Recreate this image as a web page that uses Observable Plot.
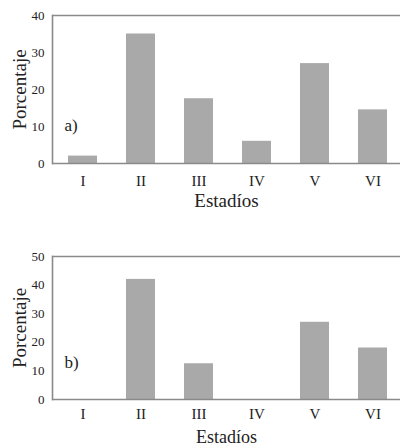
<!DOCTYPE html>
<html><head><meta charset="utf-8">
<script src="https://cdn.jsdelivr.net/npm/d3@7"></script>
<script src="https://cdn.jsdelivr.net/npm/@observablehq/plot@0.6"></script>
<style>body{margin:0;background:#fff}#c{width:400px}svg{display:block}</style>
</head><body><div id="c"></div>
<script>
const estadios = ["I","II","III","IV","V","VI"];
const valoresA = [2, 35, 17.5, 6, 27, 14.5];
const valoresB = [0, 42, 12.5, 0, 27, 18];
const ticksA = [0,10,20,30,40];
const ticksB = [0,10,20,30,40,50];

const font = "'Liberation Serif', 'DejaVu Serif', serif";
const grid = "#8a8a8a";
const barFill = "#a9a9a9";

function panel(values, ticks, ymax, tag, tagY, opts) {
  const data = estadios.map((e,i)=>({e, v: values[i]}));
  return Plot.plot({
    width: 400, height: opts.height,
    marginLeft: 52, marginRight: 0, marginTop: opts.marginTop, marginBottom: opts.marginBottom,
    style: {fontFamily: font, fontSize: "13px", color: "#222", background: "#fff"},
    x: {domain: estadios, range: [51, 404], paddingInner: 0.5, paddingOuter: 0.25},
    y: {domain: [0, ymax]},
    marks: [
      Plot.barY(data, {x: "e", y: "v", fill: barFill}),
      Plot.axisX({label: "Estadíos", labelAnchor: "center", labelOffset: opts.labelOffset, labelArrow: "none", tickSize: 0, tickPadding: opts.tickPadding, fontSize: 15}),
      Plot.axisY({ticks, label: "Porcentaje", labelAnchor: "center", labelOffset: 40, labelArrow: "none", tickSize: 0, tickPadding: 8}),
      Plot.ruleY([0], {stroke: grid, strokeWidth: 1.6}),
      Plot.ruleY([ymax], {stroke: grid, strokeWidth: 1.6}),
      Plot.frame({anchor: "left", stroke: grid, strokeWidth: 1.6}),
      Plot.text([tag], {frameAnchor: "left", dx: 12, y: tagY, text: d=>d, fontSize: 17, fill: "#222"})
    ]
  });
}

const a = panel(valoresA, ticksA, 40, "a)", 10.3, {height: 215, marginTop: 15, marginBottom: 52, tickPadding: 12, labelOffset: 43});
const b = panel(valoresB, ticksB, 50, "b)", 12.8, {height: 233, marginTop: 41, marginBottom: 49, tickPadding: 9, labelOffset: 43});
document.getElementById("c").append(a, b);
for (const svg of [a,b]) {
  svg.querySelectorAll("[aria-label='x-axis label'] text, [aria-label='y-axis label'] text, [aria-label='x-axis label'], [aria-label='y-axis label']").forEach(t=>{
    t.style.fontSize = "19px";
    if (t.tagName === "text") t.textContent = t.textContent.replace(/\s*[↑→←↓]\s*/g, "");
  });
}
b.querySelectorAll("[aria-label='x-axis label'] text, [aria-label='x-axis label']").forEach(t=>{ t.style.fontSize = "18px"; });
</script>
</body></html>
